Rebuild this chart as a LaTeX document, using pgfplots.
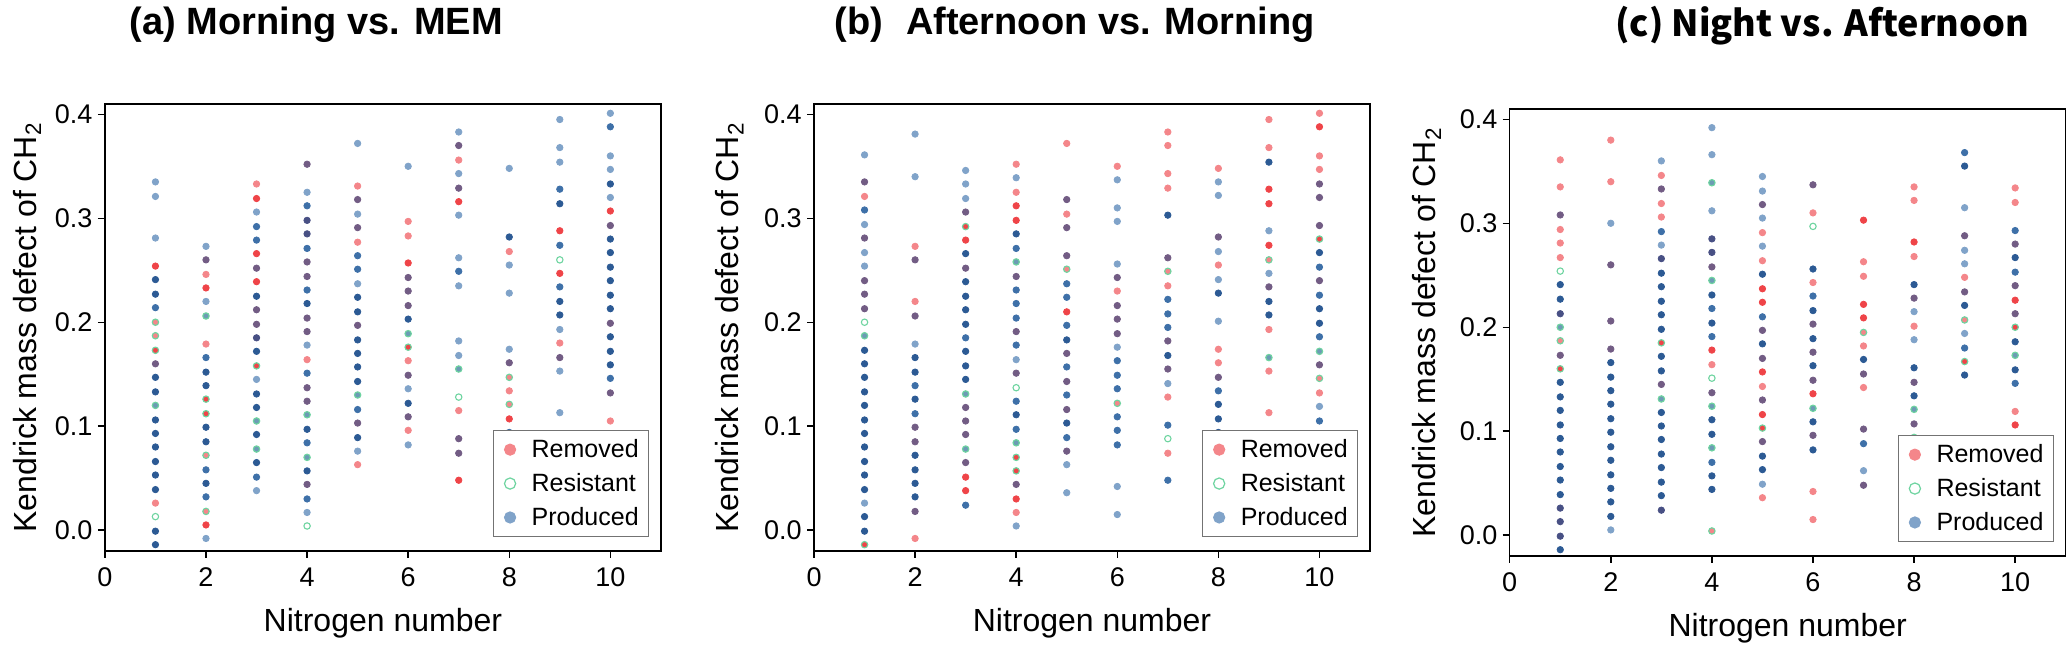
\documentclass[border=0pt]{standalone}
\usepackage{fontspec}
\setmainfont{Liberation Sans}
\newfontfamily\cjk{Noto Sans CJK SC}
\usepackage{pgfplots}
\pgfplotsset{compat=1.18}

% colours (overlaps give the darker shades)
\definecolor{cP1}{RGB}{128,163,201}
\definecolor{cP2}{RGB}{62,112,168}
\definecolor{cP3}{RGB}{44,90,148}
\definecolor{cR1}{RGB}{244,134,138}
\definecolor{cR2}{RGB}{239,68,72}
\definecolor{cRP}{RGB}{114,92,132}
\definecolor{cRPd}{RGB}{72,80,132}
\definecolor{cG}{RGB}{110,212,160}
\definecolor{cGP}{RGB}{108,156,180}

\pgfplotsset{
  panel/.style={
    scale only axis, width=278pt, height=223.5pt,
    xmin=0, xmax=11, ymin=-0.02, ymax=0.41,
    xtick={0,2,...,10}, ytick={0,0.1,0.2,0.3,0.4},
    xtick pos=bottom, ytick pos=left, tick align=outside,
    major tick length=3.5pt,
    axis line style={line width=0.7pt},
    every tick/.style={line width=0.7pt, black},
    /pgf/number format/assume math mode=true,
    ticklabel style={font=\fontsize{13.5}{15}\selectfont},
    xticklabel style={yshift=-1.5pt},
    yticklabel style={inner sep=2.5pt, /pgf/number format/fixed,
      /pgf/number format/fixed zerofill, /pgf/number format/precision=1},
    xlabel={Nitrogen number},
    ylabel={Kendrick mass defect of CH\textsubscript{2}},
    label style={font=\fontsize{16}{19}\selectfont},
    xlabel style={at={(axis description cs:0.5,-0.162)}, anchor=center},
    title style={anchor=base, font=\bfseries\fontsize{19}{22}\selectfont},
    legend cell align=left,
    legend image code/.code={\path (-5pt,0pt); \draw[#1] plot coordinates {(0pt,0pt)};},
    legend style={at={(axis description cs:1,0)}, anchor=south east,
      xshift=-5.85pt, yshift=7pt, draw=black!55, line width=0.5pt,
      font=\fontsize{12.5}{15}\selectfont, inner xsep=3pt, inner ysep=2.2pt,
      column sep=6pt, row sep=2.4pt, nodes={inner sep=2pt}},
  },
  dot/.style={only marks, mark=*, mark size=1.6pt, forget plot},
  p1/.style={dot, color=cP1},
  p2/.style={dot, color=cP2},
  p3/.style={dot, color=cP3},
  r1/.style={dot, color=cR1},
  r2/.style={dot, color=cR2},
  rp/.style={dot, color=cRP},
  rpd/.style={dot, color=cRPd},
  gg/.style={dot, mark=o, color=cG, mark options={line width=0.55pt}},
  gp/.style={dot, color=cG, mark options={fill=cGP, line width=0.55pt}},
  gr/.style={dot, color=cG, mark options={fill=cR1, line width=0.55pt}},
  gr2/.style={dot, color=cG, mark options={fill=cR2, line width=0.55pt}},
  keyR/.style={only marks, mark=*, mark size=2.8pt, color=cR1},
  keyG/.style={only marks, mark=o, mark size=2.8pt, color=cG, mark options={line width=0.6pt}},
  keyP/.style={only marks, mark=*, mark size=2.8pt, color=cP1},
}

\begin{document}
\begin{tikzpicture}
\path (0,0) rectangle (1033.5pt,318.5pt);

% (a)
\begin{axis}[panel, at={(52.45pt,50pt)}, anchor=south west,
  title={(a) Morning vs. MEM},
  title style={at={(axis description cs:0.38,1)}, yshift=28.5pt},
  ylabel style={at={(axis description cs:-0.140,0.5)}, anchor=center}]
\addlegendimage{keyR}
\addlegendentry{Removed}
\addlegendimage{keyG}
\addlegendentry{Resistant}
\addlegendimage{keyP}
\addlegendentry{Produced}
\addplot[p1] coordinates {(1,0.335)(1,0.321)(1,0.281)(2,0.273)(2,0.220)(2,-0.008)(3,0.306)(3,0.145)(3,0.038)(4,0.325)(4,0.178)(4,0.017)(5,0.372)(5,0.304)(5,0.237)(5,0.076)(6,0.350)(6,0.136)(6,0.082)(7,0.383)(7,0.343)(7,0.303)(7,0.262)(7,0.235)(7,0.182)(7,0.168)(8,0.348)(8,0.255)(8,0.228)(8,0.174)(9,0.395)(9,0.368)(9,0.354)(9,0.193)(9,0.153)(9,0.113)(10,0.401)(10,0.360)(10,0.347)(10,0.320)};
\addplot[p2] coordinates {(1,0.214)(2,0.166)(2,0.058)(2,0.032)(3,0.292)(3,0.279)(3,0.051)(4,0.312)(4,0.271)(4,0.231)(4,0.151)(4,0.084)(4,0.030)(5,0.264)(5,0.251)(5,0.116)(7,0.249)(8,0.094)(9,0.328)(9,0.274)(9,0.234)(10,0.388)(10,0.146)};
\addplot[p3] coordinates {(1,0.241)(1,0.227)(1,0.147)(1,0.133)(1,0.106)(1,0.093)(1,0.080)(1,0.066)(1,0.053)(1,0.039)(1,-0.001)(1,-0.014)(2,0.152)(2,0.139)(2,0.099)(2,0.085)(2,0.045)(3,0.225)(3,0.172)(3,0.131)(3,0.118)(3,0.092)(3,0.065)(4,0.218)(4,0.097)(4,0.057)(5,0.224)(5,0.210)(5,0.183)(5,0.170)(5,0.157)(5,0.143)(5,0.089)(6,0.203)(6,0.122)(8,0.282)(9,0.314)(9,0.220)(9,0.207)(10,0.333)(10,0.280)(10,0.267)(10,0.253)(10,0.240)(10,0.226)(10,0.213)(10,0.186)(10,0.172)(10,0.159)};
\addplot[r1] coordinates {(1,0.026)(2,0.246)(2,0.179)(3,0.333)(4,0.164)(5,0.331)(5,0.277)(5,0.063)(6,0.297)(6,0.283)(6,0.163)(6,0.096)(7,0.356)(7,0.115)(8,0.268)(8,0.134)(9,0.180)(9,0.087)(10,0.105)};
\addplot[r2] coordinates {(1,0.254)(2,0.233)(2,0.005)(3,0.319)(3,0.266)(3,0.239)(6,0.257)(7,0.316)(7,0.048)(8,0.107)(9,0.288)(9,0.247)(10,0.307)};
\addplot[rp] coordinates {(1,0.160)(2,0.260)(3,0.252)(3,0.212)(3,0.198)(4,0.352)(4,0.258)(4,0.244)(4,0.204)(4,0.191)(4,0.137)(4,0.124)(4,0.044)(5,0.318)(5,0.291)(5,0.197)(5,0.103)(6,0.243)(6,0.230)(6,0.216)(6,0.149)(6,0.109)(7,0.370)(7,0.329)(7,0.088)(7,0.074)(8,0.161)(9,0.166)(10,0.293)(10,0.199)(10,0.132)};
\addplot[rpd] coordinates {(3,0.185)(4,0.298)(4,0.285)};
\addplot[gp] coordinates {(1,0.120)(2,0.206)(3,0.105)(3,0.078)(4,0.111)(4,0.070)(5,0.130)(6,0.189)(7,0.155)};
\addplot[gr] coordinates {(1,0.200)(1,0.187)(2,0.072)(2,0.018)(8,0.147)(8,0.121)};
\addplot[gr2] coordinates {(1,0.173)(2,0.126)(2,0.112)(3,0.158)(6,0.176)};
\addplot[gg] coordinates {(1,0.013)(4,0.004)(7,0.128)(9,0.260)};
\end{axis}

% (b)
\begin{axis}[panel, at={(407pt,50pt)}, anchor=south west,
  title={(b)\hspace{0.6em}Afternoon vs. Morning},
  title style={at={(axis description cs:0.469,1)}, yshift=28.5pt},
  ylabel style={at={(axis description cs:-0.152,0.5)}, anchor=center}]
\addlegendimage{keyR}
\addlegendentry{Removed}
\addlegendimage{keyG}
\addlegendentry{Resistant}
\addlegendimage{keyP}
\addlegendentry{Produced}
\addplot[p1] coordinates {(1,0.361)(1,0.294)(1,0.267)(1,0.254)(1,0.026)(2,0.381)(2,0.340)(2,0.179)(3,0.346)(3,0.333)(3,0.319)(4,0.339)(4,0.164)(4,0.004)(5,0.063)(5,0.036)(6,0.337)(6,0.310)(6,0.297)(6,0.256)(6,0.176)(6,0.042)(6,0.015)(7,0.141)(8,0.335)(8,0.322)(8,0.268)(8,0.241)(8,0.201)(9,0.288)(9,0.247)(10,0.119)};
\addplot[p2] coordinates {(1,0.308)(2,0.139)(2,0.112)(3,0.185)(3,0.024)(4,0.271)(4,0.231)(4,0.218)(4,0.204)(4,0.178)(4,0.124)(4,0.097)(5,0.237)(5,0.224)(5,0.197)(5,0.157)(5,0.130)(5,0.089)(6,0.163)(6,0.149)(6,0.136)(6,0.109)(6,0.096)(6,0.082)(7,0.222)(7,0.208)(7,0.195)(7,0.101)(7,0.048)(8,0.134)(10,0.253)(10,0.226)(10,0.186)(10,0.105)};
\addplot[p3] coordinates {(1,0.173)(1,0.160)(1,0.147)(1,0.133)(1,0.120)(1,0.106)(1,0.093)(1,0.080)(1,0.066)(1,0.053)(1,0.039)(1,0.013)(1,-0.001)(2,0.166)(2,0.152)(2,0.126)(2,0.072)(2,0.058)(2,0.045)(2,0.032)(3,0.266)(3,0.239)(3,0.225)(3,0.212)(3,0.198)(3,0.172)(3,0.158)(3,0.145)(4,0.285)(4,0.111)(5,0.183)(5,0.103)(7,0.303)(7,0.168)(8,0.228)(8,0.121)(8,0.107)(8,0.094)(9,0.354)(9,0.220)(9,0.207)(10,0.267)(10,0.213)(10,0.199)};
\addplot[r1] coordinates {(1,0.321)(2,0.273)(2,0.220)(2,-0.008)(4,0.352)(4,0.325)(4,0.017)(5,0.372)(5,0.304)(6,0.350)(6,0.230)(7,0.383)(7,0.370)(7,0.343)(7,0.329)(7,0.235)(7,0.128)(7,0.074)(8,0.348)(8,0.255)(8,0.174)(8,0.161)(9,0.395)(9,0.368)(9,0.193)(9,0.153)(9,0.113)(10,0.401)(10,0.360)(10,0.347)(10,0.132)};
\addplot[r2] coordinates {(3,0.279)(3,0.051)(3,0.038)(4,0.312)(4,0.298)(4,0.030)(5,0.210)(9,0.328)(9,0.314)(9,0.274)(10,0.388)};
\addplot[rp] coordinates {(1,0.335)(1,0.281)(1,0.240)(1,0.227)(1,0.213)(2,0.260)(2,0.206)(2,0.099)(2,0.085)(2,0.018)(3,0.306)(3,0.252)(3,0.118)(3,0.105)(3,0.092)(3,0.065)(4,0.244)(4,0.191)(4,0.151)(4,0.044)(5,0.318)(5,0.291)(5,0.264)(5,0.170)(5,0.143)(5,0.116)(5,0.076)(6,0.243)(6,0.216)(6,0.203)(6,0.189)(7,0.262)(7,0.182)(7,0.155)(8,0.282)(8,0.147)(9,0.234)(10,0.333)(10,0.320)(10,0.293)(10,0.240)(10,0.159)};
\addplot[gp] coordinates {(1,0.187)(3,0.131)(3,0.078)(4,0.258)(4,0.084)(9,0.166)(10,0.172)};
\addplot[gr] coordinates {(5,0.251)(6,0.122)(7,0.249)(9,0.260)(10,0.146)};
\addplot[gr2] coordinates {(1,-0.014)(3,0.292)(4,0.070)(4,0.057)(10,0.280)};
\addplot[gg] coordinates {(1,0.200)(4,0.137)(7,0.088)};
\end{axis}

% (c)
\begin{axis}[panel, at={(754.85pt,47.5pt)}, anchor=south west,
  title={\cjk\bfseries\fontsize{18}{22}\selectfont (c) Night vs. Afternoon},
  title style={at={(axis description cs:0.562,1)}, yshift=30pt},
  ylabel style={at={(axis description cs:-0.149,0.5)}, anchor=center}]
\addlegendimage{keyR}
\addlegendentry{Removed}
\addlegendimage{keyG}
\addlegendentry{Resistant}
\addlegendimage{keyP}
\addlegendentry{Produced}
\addplot[p1] coordinates {(2,0.300)(2,0.005)(3,0.360)(3,0.279)(4,0.392)(4,0.366)(4,0.312)(5,0.345)(5,0.331)(5,0.305)(5,0.278)(5,0.049)(7,0.062)(8,0.215)(8,0.188)(9,0.315)(9,0.274)(9,0.261)(9,0.194)};
\addplot[p2] coordinates {(3,0.292)(4,0.218)(4,0.191)(4,0.070)(5,0.210)(6,0.230)(7,0.088)(9,0.368)(9,0.180)(10,0.293)(10,0.253)(10,0.146)};
\addplot[p3] coordinates {(1,0.241)(1,0.227)(1,0.147)(1,0.133)(1,0.120)(1,0.106)(1,0.093)(1,0.080)(1,0.066)(1,0.053)(1,0.039)(1,-0.014)(2,0.166)(2,0.152)(2,0.139)(2,0.126)(2,0.112)(2,0.099)(2,0.085)(2,0.072)(2,0.058)(2,0.045)(2,0.032)(2,0.018)(3,0.252)(3,0.239)(3,0.225)(3,0.212)(3,0.198)(3,0.172)(3,0.158)(3,0.118)(3,0.105)(3,0.092)(3,0.078)(3,0.065)(3,0.051)(3,0.038)(4,0.231)(4,0.204)(4,0.111)(4,0.097)(4,0.057)(4,0.044)(5,0.251)(5,0.184)(5,0.076)(5,0.063)(6,0.256)(6,0.216)(6,0.189)(6,0.163)(6,0.109)(6,0.082)(7,0.169)(8,0.241)(8,0.161)(8,0.134)(9,0.355)(9,0.221)(9,0.154)(10,0.267)(10,0.186)(10,0.159)};
\addplot[r1] coordinates {(1,0.361)(1,0.335)(1,0.294)(1,0.281)(1,0.267)(2,0.380)(2,0.340)(3,0.346)(3,0.319)(3,0.306)(4,0.164)(5,0.291)(5,0.264)(5,0.143)(5,0.036)(6,0.310)(6,0.243)(6,0.042)(6,0.015)(7,0.263)(7,0.249)(7,0.182)(7,0.142)(8,0.335)(8,0.322)(8,0.268)(8,0.201)(9,0.248)(10,0.334)(10,0.320)(10,0.119)};
\addplot[r2] coordinates {(4,0.178)(5,0.237)(5,0.224)(5,0.157)(5,0.116)(6,0.136)(7,0.303)(7,0.222)(7,0.209)(8,0.282)(10,0.226)(10,0.106)};
\addplot[rp] coordinates {(1,0.308)(1,0.173)(2,0.260)(2,0.206)(2,0.179)(3,0.333)(3,0.145)(4,0.258)(4,0.137)(5,0.318)(5,0.197)(5,0.170)(5,0.130)(5,0.090)(6,0.337)(6,0.203)(6,0.176)(6,0.149)(6,0.096)(7,0.155)(7,0.102)(7,0.048)(8,0.228)(8,0.147)(8,0.107)(9,0.288)(9,0.234)(10,0.280)(10,0.240)(10,0.213)};
\addplot[rpd] coordinates {(1,0.213)(1,0.026)(1,0.013)(1,-0.001)(3,0.266)(3,0.024)(4,0.285)(4,0.272)};
\addplot[gp] coordinates {(1,0.200)(3,0.131)(4,0.339)(4,0.245)(4,0.124)(4,0.084)(6,0.122)(8,0.121)(10,0.173)};
\addplot[gr] coordinates {(1,0.187)(4,0.004)(7,0.195)(9,0.207)};
\addplot[gr2] coordinates {(1,0.160)(3,0.185)(5,0.103)(8,0.094)(9,0.167)(10,0.200)};
\addplot[gg] coordinates {(1,0.254)(4,0.151)(6,0.297)};
\end{axis}
\end{tikzpicture}
\end{document}
